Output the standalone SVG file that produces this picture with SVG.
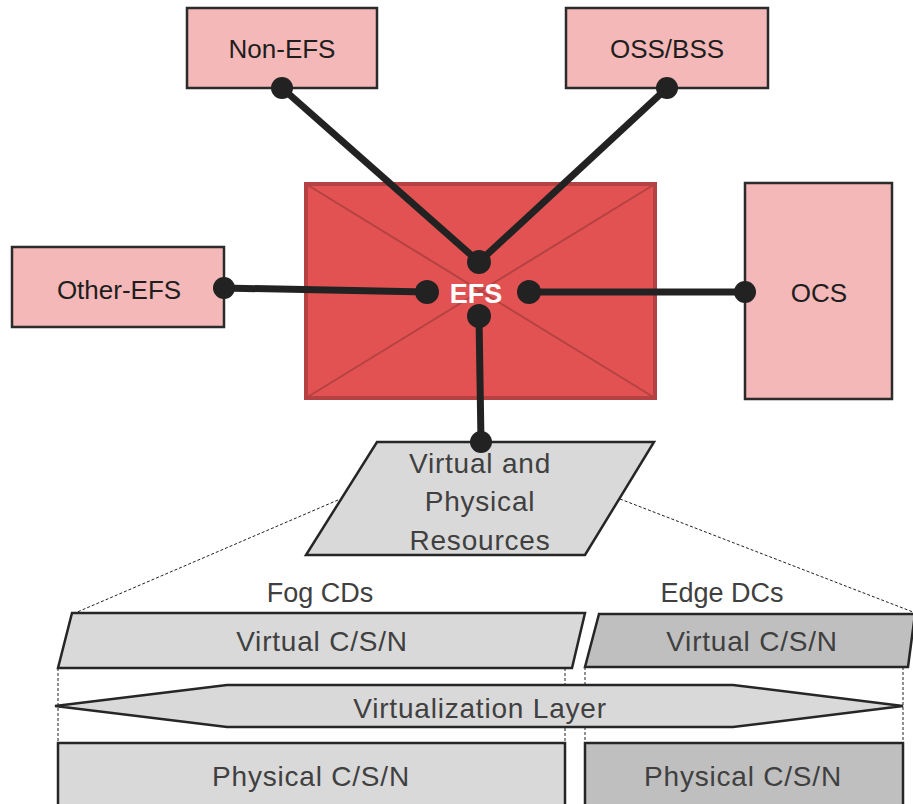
<svg xmlns="http://www.w3.org/2000/svg" width="913" height="804" viewBox="0 0 913 804">
<style>
.pink{fill:#f4b8b8;stroke:#2b2b2b;stroke-width:2.5}
.t{font-family:"Liberation Sans",Arial,sans-serif;text-anchor:middle;dominant-baseline:central}
.dark{fill:#1e1e1e;font-size:26px}
.gray{fill:#404040;font-size:28px;letter-spacing:0.8px}
.lbl{fill:#404040;font-size:27px}
.lg{fill:#d9d9d9;stroke:#262626;stroke-width:2.5}
.dg{fill:#bfbfbf;stroke:#262626;stroke-width:2.5}
.conn{stroke:#222;stroke-width:7;fill:none}
.dot{fill:#222}
.dash{stroke:#222;stroke-width:1;stroke-dasharray:3,2;fill:none}
</style>
<rect width="913" height="804" fill="#fff"/>
<g id="efs">
<rect x="306" y="184" width="349" height="214" fill="#e35252" stroke="#b54242" stroke-width="4"/>
<line x1="306" y1="184" x2="655" y2="398" stroke="#b54242" stroke-width="2"/>
<line x1="655" y1="184" x2="306" y2="398" stroke="#b54242" stroke-width="2"/>
<text class="t" x="476" y="294" fill="#fff" font-size="27" font-weight="bold">EFS</text>
</g>
<g id="non-efs"><rect class="pink" x="187" y="8" width="190" height="80"/><text class="t dark" x="282" y="49">Non-EFS</text></g>
<g id="oss-bss"><rect class="pink" x="566" y="8" width="202" height="80"/><text class="t dark" x="667" y="49">OSS/BSS</text></g>
<g id="other-efs"><rect class="pink" x="12" y="247" width="212" height="80"/><text class="t dark" x="119" y="290">Other-EFS</text></g>
<g id="ocs"><rect class="pink" x="745" y="183" width="147" height="216"/><text class="t dark" x="819" y="293">OCS</text></g>
<g id="resources">
<polygon class="lg" points="377,442 654,442 585,555 306,555"/>
<text class="t gray" x="480" y="463">Virtual and</text>
<text class="t gray" x="480" y="501">Physical</text>
<text class="t gray" x="480" y="540">Resources</text>
</g>
<g id="dashes">
<line class="dash" x1="338" y1="500" x2="75" y2="613"/>
<line class="dash" x1="620" y1="499" x2="913" y2="612"/>
<line class="dash" x1="58" y1="668" x2="58" y2="743"/>
<line class="dash" x1="565" y1="668" x2="565" y2="743"/>
<line class="dash" x1="585" y1="667" x2="585" y2="743"/>
<line class="dash" x1="903" y1="667" x2="903" y2="743"/>
</g>
<text class="t lbl" x="320" y="593">Fog CDs</text>
<text class="t lbl" x="722" y="593">Edge DCs</text>
<g id="fog-virtual"><polygon class="lg" points="72,613 585,613 572,668 58,668"/><text class="t gray" x="322" y="641">Virtual C/S/N</text></g>
<g id="edge-virtual"><polygon class="dg" points="599,614 915,614 908,667 585,667"/><text class="t gray" x="752" y="641">Virtual C/S/N</text></g>
<g id="virtualization"><polygon class="lg" points="55,706 227,685 733,685 903,706 733,727 227,727"/><text class="t gray" x="480" y="708">Virtualization Layer</text></g>
<g id="fog-physical"><rect class="lg" x="58" y="743" width="507" height="70"/><text class="t gray" x="311" y="776">Physical C/S/N</text></g>
<g id="edge-physical"><rect class="dg" x="585" y="743" width="318" height="70"/><text class="t gray" x="743" y="776">Physical C/S/N</text></g>
<g id="connectors">
<line class="conn" x1="282" y1="88" x2="479" y2="262"/>
<line class="conn" x1="667" y1="88" x2="479" y2="262"/>
<line class="conn" x1="224" y1="288" x2="427" y2="292"/>
<line class="conn" x1="745" y1="292" x2="529" y2="292"/>
<line class="conn" x1="479" y1="316" x2="481" y2="442"/>
<circle class="dot" cx="282" cy="88" r="11"/>
<circle class="dot" cx="667" cy="88" r="11"/>
<circle class="dot" cx="479" cy="262" r="12"/>
<circle class="dot" cx="224" cy="288" r="11"/>
<circle class="dot" cx="427" cy="292" r="12"/>
<circle class="dot" cx="745" cy="292" r="11"/>
<circle class="dot" cx="529" cy="292" r="12"/>
<circle class="dot" cx="479" cy="316" r="12"/>
<circle class="dot" cx="481" cy="442" r="11"/>
</g>
</svg>
